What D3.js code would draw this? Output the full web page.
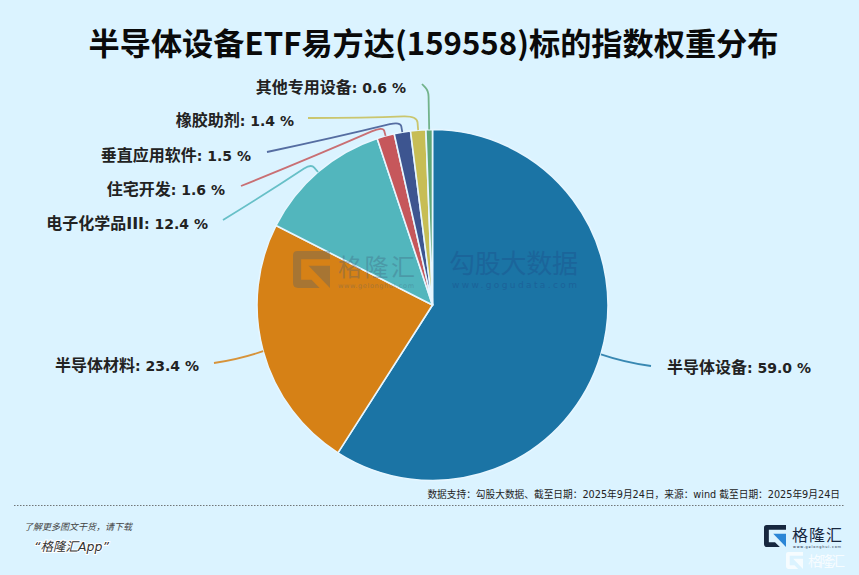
<!DOCTYPE html>
<html>
<head>
<meta charset="utf-8">
<script src="https://cdn.jsdelivr.net/npm/d3@7"></script>
<style>
html, body { margin: 0; padding: 0; background: #dbf3ff; }
svg { display: block; }
text { font-family: "DejaVu Sans", "Noto Sans CJK SC", sans-serif; }
.cjk { font-family: "Noto Sans CJK SC", sans-serif; }
</style>
</head>
<body>
<div id="chart"></div>
<script>
// chart data
var categories = ["半导体设备", "半导体材料", "电子化学品III", "住宅开发", "垂直应用软件", "橡胶助剂", "其他专用设备"];
var weights = [59.0, 23.4, 12.4, 1.6, 1.5, 1.4, 0.6];
var colors = ["#1b74a5", "#d68116", "#52b6bd", "#c6575b", "#3d5590", "#c7bd55", "#5fa777"];

var titleText = "半导体设备ETF易方达(159558)标的指数权重分布";
var sourceText = "数据支持：勾股大数据、截至日期：2025年9月24日，来源：wind 截至日期：2025年9月24日";

// where the labels sit and where the leader lines end (same order as categories)
var labelX = [667, 199, 208, 225, 251, 294, 406];
var labelY = [368, 366, 224, 190, 156, 121, 88];
var labelAnchor = ["start", "end", "end", "end", "end", "end", "end"];
var leaderEndX = [651, 214, 223, 241, 267, 308, 422];
var leaderEndY = [366, 363, 220, 186, 152, 118, 84];
var elbowR = [1.0, 1.0, 1.06, 1.055, 1.06, 1.08, 1.22];

var width = 859, height = 575;
var cx = 432.5, cy = 305, radius = 175.5;

var svg = d3.select("#chart").append("svg")
    .attr("width", width)
    .attr("height", height);

svg.append("rect")
    .attr("width", width)
    .attr("height", height)
    .attr("fill", "#dbf3ff");

//title
svg.append("text")
    .attr("class", "cjk")
    .attr("x", 433.5)
    .attr("y", 55)
    .attr("text-anchor", "middle")
    .attr("font-size", 31.2)
    .attr("font-weight", 700)
    .attr("fill", "#0a0a0a")
    .text(titleText);

//pie
var rows = categories.map((name, i) => ({name: name, value: weights[i], i: i}));
var pie = d3.pie().sort(null).value(d => d.value);
var arc = d3.arc().innerRadius(0).outerRadius(radius);
var arcs = pie(rows);

var g = svg.append("g").attr("transform", "translate(" + cx + "," + cy + ")");

g.selectAll("path.slice")
    .data(arcs)
    .enter()
    .append("path")
    .attr("class", "slice")
    .attr("d", arc)
    .attr("fill", d => colors[d.data.i])
    .attr("stroke", "#e6f6ff")
    .attr("stroke-width", 1.6)
    .attr("stroke-linejoin", "round");

//leader lines, start on the slice edge and bend at the elbow
function leaderPath(d) {
    var i = d.data.i;
    var mid = (d.startAngle + d.endAngle) / 2;
    var sx = Math.sin(mid) * radius, sy = -Math.cos(mid) * radius;
    var ex = leaderEndX[i] - cx, ey = leaderEndY[i] - cy;
    var p = d3.path();
    p.moveTo(sx, sy);
    if (elbowR[i] == 1.0) {
        // big slices only have a gentle curve
        var qx = sx + (ex - sx) * 0.5 + (i == 0 ? -2 : 2);
        var qy = sy + (ey - sy) * 0.5 + 2;
        p.quadraticCurveTo(qx, qy, ex, ey);
        return p.toString();
    }
    var bx = Math.sin(mid) * radius * elbowR[i], by = -Math.cos(mid) * radius * elbowR[i];
    // round the corner at the elbow
    var a = 0.55, b = 0.08;
    if (i == 6) { a = 0.85; b = 0.5; }
    if (i == 5) { b = 0.12; }
    p.lineTo(sx + (bx - sx) * a, sy + (by - sy) * a);
    p.quadraticCurveTo(bx, by, bx + (ex - bx) * b, by + (ey - by) * b);
    p.quadraticCurveTo(bx + (ex - bx) * 0.5, by + (ey - by) * 0.5 + (i == 6 ? 0 : 1), ex, ey);
    return p.toString();
}

g.selectAll("path.leader")
    .data(arcs)
    .enter()
    .append("path")
    .attr("class", "leader")
    .attr("d", leaderPath)
    .attr("fill", "none")
    .attr("stroke", d => colors[d.data.i])
    .attr("stroke-opacity", 0.85)
    .attr("stroke-width", 1.8);

//labels, the name is bigger than the number
var labels = svg.selectAll("text.label")
    .data(rows)
    .enter()
    .append("text")
    .attr("class", "label")
    .attr("x", d => labelX[d.i])
    .attr("y", d => labelY[d.i] + 5)
    .attr("text-anchor", d => labelAnchor[d.i])
    .attr("font-weight", 700)
    .attr("fill", "#222");
labels.append("tspan").attr("font-size", 16).text(d => d.name);
labels.append("tspan").attr("font-size", 14).text(d => ": " + d.value.toFixed(1) + " %");

// G shaped logo, s is the box size
function logo(x, y, s, color, arrow, opacity) {
    var l = svg.append("g")
        .attr("transform", "translate(" + x + "," + y + ") scale(" + s + ")")
        .attr("opacity", opacity);
    l.append("path")
        .attr("d", "M1 0H.12Q0 0 0 .12V.86Q0 1 .14 1H.72L.5 .78H.22V.22H1Z")
        .attr("fill", color);
    l.append("path")
        .attr("d", "M.42 .4H1V1Z")
        .attr("fill", arrow);
}

//watermarks over the pie
var markColor = "#3c5a78";
logo(293, 251, 37, markColor, markColor, 0.3);
svg.append("text").attr("x", 338).attr("y", 275.5).attr("font-size", 24)
    .attr("textLength", 77).attr("fill", markColor).attr("opacity", 0.3).text("格隆汇");
svg.append("text").attr("x", 338).attr("y", 288).attr("font-size", 6.5)
    .attr("textLength", 76).attr("fill", markColor).attr("opacity", 0.3).text("www.gelonghui.com");
svg.append("text").attr("x", 449).attr("y", 273).attr("font-size", 26)
    .attr("textLength", 129).attr("fill", "#1d4f8c").attr("opacity", 0.4).text("勾股大数据");
svg.append("text").attr("x", 452).attr("y", 288).attr("font-size", 9)
    .attr("textLength", 125).attr("fill", "#1d4f8c").attr("opacity", 0.45).text("www.gogudata.com");

//footer
svg.append("text")
    .attr("x", 840)
    .attr("y", 498)
    .attr("text-anchor", "end")
    .attr("font-size", 9.7)
    .attr("fill", "#222")
    .text(sourceText);

svg.append("line")
    .attr("x1", 14).attr("x2", 845)
    .attr("y1", 505.5).attr("y2", 505.5)
    .attr("stroke", "#555")
    .attr("stroke-width", 0.8)
    .attr("stroke-dasharray", "1.5 1.5");

svg.append("text").attr("x", 24).attr("y", 530).attr("font-size", 9)
    .attr("font-style", "italic").attr("fill", "#444").text("了解更多图文干货，请下载");

svg.append("text").attr("x", 34).attr("y", 551).attr("font-size", 12.5)
    .attr("font-style", "italic").attr("fill", "#333")
    .attr("stroke", "#fff").attr("stroke-width", 2).attr("paint-order", "stroke")
    .text("“格隆汇App”");

//logo at the bottom right
logo(764, 525, 22, "#17273f", "#2b86d6", 1);
svg.append("text").attr("x", 792).attr("y", 541).attr("font-size", 16)
    .attr("textLength", 50).attr("fill", "#17273f").text("格隆汇");
svg.append("text").attr("x", 793).attr("y", 548).attr("font-size", 3.5)
    .attr("textLength", 48).attr("fill", "#17273f").text("www.gelonghui.com");
logo(786, 552, 17, "#fff", "#fff", 0.75);
svg.append("text").attr("x", 808).attr("y", 566).attr("font-size", 14)
    .attr("textLength", 37).attr("fill", "#fff").attr("opacity", 0.8).text("格隆汇");
</script>
</body>
</html>
